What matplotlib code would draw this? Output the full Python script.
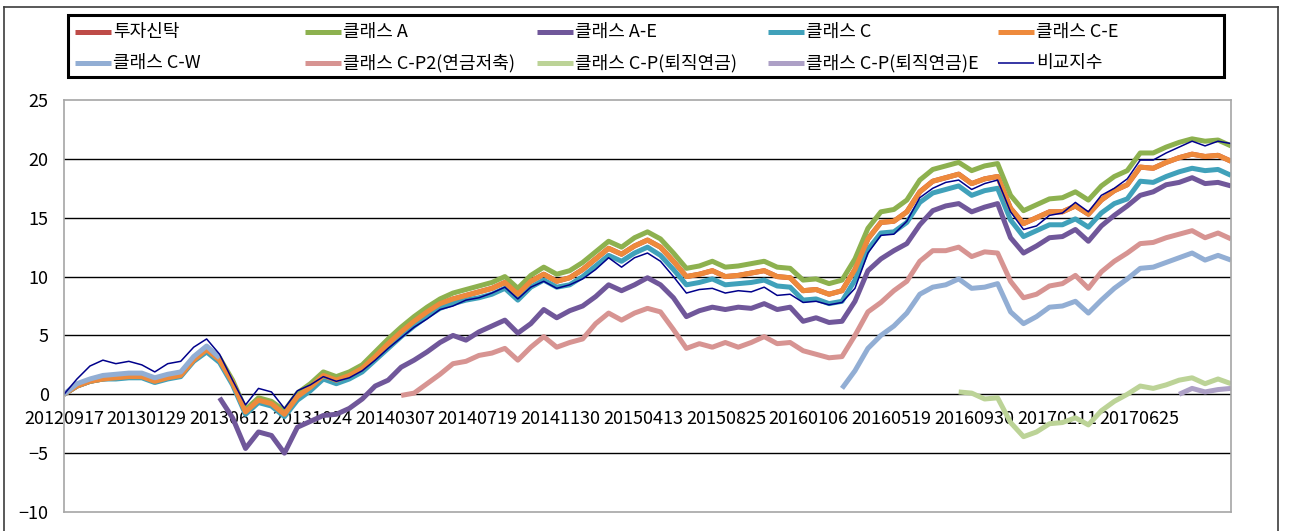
import numpy as np
import pandas as pd
import matplotlib.pyplot as plt
from matplotlib.lines import Line2D
from matplotlib.patches import Rectangle

plt.rcParams['font.family'] = ['Noto Sans CJK KR', 'DejaVu Sans']

# 값은 그림에서 3주 간격으로 읽음 (None = 데이터 없음)
dates = pd.date_range('2012-09-17', periods=91, freq='21D')
tick_labels = ['20120917', '20130129', '20130612', '20131024', '20140307',
               '20140719', '20141130', '20150413', '20150825', '20160106',
               '20160519', '20160930', '20170211', '20170625']

fund = [0.0, 0.7, 1.1, 1.3, 1.4, 1.5, 1.5, 1.1, 1.4, 1.6,
        2.9, 3.8, 2.9, 1.0, -1.5, -0.5, -0.8, -1.7, -0.2, 0.6,
        1.6, 1.2, 1.6, 2.2, 3.2, 4.3, 5.3, 6.2, 7.0, 7.7,
        8.1, 8.4, 8.7, 9.0, 9.5, 8.5, 9.6, 10.2, 9.6, 9.9,
        10.6, 11.5, 12.4, 11.9, 12.6, 13.1, 12.5, 11.3, 10.0, 10.2,
        10.5, 10.0, 10.1, 10.3, 10.5, 10.0, 9.9, 8.8, 8.9, 8.5,
        8.8, 10.6, 13.2, 14.6, 14.7, 15.5, 17.2, 18.1, 18.4, 18.7,
        17.9, 18.3, 18.5, 15.8, 14.5, 15.0, 15.5, 15.5, 16.0, 15.3,
        16.5, 17.3, 17.8, 19.3, 19.2, 19.7, 20.1, 20.4, 20.2, 20.3, 19.8]

class_a = [0.0, 0.7, 1.1, 1.3, 1.5, 1.6, 1.6, 1.2, 1.5, 1.7,
           3.1, 4.0, 3.1, 1.2, -1.3, -0.3, -0.6, -1.4, 0.1, 0.9,
           1.9, 1.5, 1.9, 2.5, 3.6, 4.7, 5.7, 6.6, 7.4, 8.1,
           8.6, 8.9, 9.2, 9.5, 10.0, 9.0, 10.1, 10.8, 10.2, 10.5,
           11.2, 12.1, 13.0, 12.5, 13.3, 13.8, 13.2, 12.0, 10.7, 10.9,
           11.3, 10.8, 10.9, 11.1, 11.3, 10.8, 10.7, 9.7, 9.8, 9.4,
           9.7, 11.5, 14.1, 15.5, 15.7, 16.5, 18.2, 19.1, 19.4, 19.7,
           19.0, 19.4, 19.6, 16.9, 15.6, 16.1, 16.6, 16.7, 17.2, 16.5,
           17.7, 18.5, 19.0, 20.5, 20.5, 21.0, 21.4, 21.7, 21.5, 21.6, 21.1]

class_ae = [None] * 12 + [
    -0.3, -2.0, -4.6, -3.2, -3.5, -5.0, -2.8, -2.3,
    -1.8, -1.7, -1.2, -0.4, 0.7, 1.2, 2.3, 2.9, 3.6, 4.4,
    5.0, 4.6, 5.3, 5.8, 6.3, 5.2, 6.0, 7.2, 6.5, 7.1,
    7.5, 8.3, 9.3, 8.8, 9.3, 9.9, 9.3, 8.2, 6.6, 7.1,
    7.4, 7.2, 7.4, 7.3, 7.7, 7.2, 7.4, 6.2, 6.5, 6.1,
    6.2, 7.9, 10.5, 11.5, 12.2, 12.8, 14.4, 15.6, 16.0, 16.2,
    15.5, 15.9, 16.2, 13.3, 12.0, 12.6, 13.3, 13.4, 14.0, 13.0,
    14.3, 15.2, 16.0, 16.9, 17.2, 17.8, 18.0, 18.4, 17.9, 18.0, 17.7]

class_c = [0.0, 0.7, 1.1, 1.3, 1.3, 1.4, 1.4, 1.0, 1.3, 1.5,
           2.8, 3.6, 2.7, 0.8, -1.7, -0.7, -1.0, -1.9, -0.5, 0.3,
           1.3, 0.9, 1.3, 1.9, 2.9, 3.9, 4.9, 5.8, 6.6, 7.3,
           7.7, 8.0, 8.2, 8.5, 9.0, 8.0, 9.1, 9.7, 9.1, 9.3,
           10.0, 10.9, 11.8, 11.3, 12.0, 12.5, 11.8, 10.6, 9.3, 9.5,
           9.8, 9.3, 9.4, 9.5, 9.7, 9.2, 9.1, 8.0, 8.1, 7.7,
           7.9, 9.7, 12.3, 13.7, 13.8, 14.6, 16.3, 17.1, 17.4, 17.7,
           16.9, 17.3, 17.5, 14.8, 13.4, 13.9, 14.4, 14.4, 14.9, 14.2,
           15.4, 16.2, 16.6, 18.1, 18.0, 18.5, 18.9, 19.2, 19.0, 19.1, 18.6]

class_ce = [0.0, 0.7, 1.1, 1.3, 1.4, 1.5, 1.5, 1.1, 1.4, 1.6,
            2.9, 3.8, 2.9, 1.0, -1.5, -0.5, -0.8, -1.7, -0.2, 0.6,
            1.6, 1.2, 1.6, 2.2, 3.2, 4.3, 5.3, 6.2, 7.0, 7.7,
            8.1, 8.4, 8.7, 9.0, 9.5, 8.5, 9.6, 10.2, 9.6, 9.9,
            10.6, 11.5, 12.4, 11.9, 12.6, 13.1, 12.5, 11.3, 10.0, 10.2,
            10.5, 10.0, 10.1, 10.3, 10.5, 10.0, 9.9, 8.8, 8.9, 8.5,
            8.8, 10.6, 13.2, 14.6, 14.7, 15.5, 17.2, 18.1, 18.4, 18.7,
            17.9, 18.3, 18.5, 15.8, 14.5, 15.0, 15.5, 15.5, 16.0, 15.3,
            16.5, 17.3, 17.8, 19.3, 19.2, 19.7, 20.1, 20.4, 20.2, 20.3, 19.8]

class_cw = [0.0, 0.9, 1.3, 1.6, 1.7, 1.8, 1.8, 1.4, 1.7, 1.9, 3.2, 4.1, 3.1] + [None] * 47 + [
    0.5, 2.0, 3.9, 5.0, 5.8, 6.9, 8.5, 9.1, 9.3, 9.8,
    9.0, 9.1, 9.4, 7.0, 6.0, 6.6, 7.4, 7.5, 7.9, 6.9,
    8.0, 9.0, 9.8, 10.7, 10.8, 11.2, 11.6, 12.0, 11.4, 11.8, 11.4]

class_cp2 = [None] * 26 + [
    -0.1, 0.1, 0.9, 1.7,
    2.6, 2.8, 3.3, 3.5, 3.9, 2.9, 4.0, 4.9, 4.0, 4.4,
    4.7, 6.0, 6.9, 6.3, 6.9, 7.3, 7.0, 5.5, 3.9, 4.3,
    4.0, 4.4, 4.0, 4.4, 4.9, 4.3, 4.4, 3.7, 3.4, 3.1,
    3.2, 5.0, 7.0, 7.8, 8.8, 9.6, 11.3, 12.2, 12.2, 12.5,
    11.7, 12.1, 12.0, 9.6, 8.2, 8.5, 9.2, 9.4, 10.1, 9.0,
    10.4, 11.3, 12.0, 12.8, 12.9, 13.3, 13.6, 13.9, 13.3, 13.7, 13.2]

class_cp = [None] * 69 + [
    0.2, 0.1, -0.4, -0.3, -2.4, -3.6, -3.2, -2.5, -2.4, -2.0, -2.6,
    -1.4, -0.6, 0.0, 0.7, 0.5, 0.8, 1.2, 1.4, 0.9, 1.3, 0.9]

class_cpe = [None] * 86 + [0.0, 0.5, 0.2, 0.4, 0.5]

benchmark = [0.0, 1.3, 2.4, 2.9, 2.6, 2.8, 2.5, 1.9, 2.6, 2.8,
             4.0, 4.7, 3.4, 1.2, -0.9, 0.5, 0.2, -1.2, 0.3, 0.8,
             1.5, 1.1, 1.4, 2.0, 2.9, 3.9, 4.8, 5.7, 6.4, 7.2,
             7.5, 8.0, 8.2, 8.6, 9.1, 8.1, 9.1, 9.6, 9.0, 9.3,
             9.8, 10.6, 11.6, 10.8, 11.6, 12.0, 11.3, 10.0, 8.6, 8.9,
             9.0, 8.6, 8.8, 8.7, 9.1, 8.4, 8.5, 7.8, 7.9, 7.6,
             7.8, 9.0, 12.0, 13.5, 13.6, 14.7, 16.7, 17.5, 18.0, 18.2,
             17.4, 17.9, 18.2, 15.5, 14.0, 14.3, 15.2, 15.4, 16.3, 15.5,
             16.9, 17.5, 18.3, 19.9, 19.9, 20.5, 21.0, 21.5, 21.1, 21.5, 21.3]

series = [
    ('투자신탁', fund, '#BE4B48', 3.6),
    ('클래스 A', class_a, '#8DB14F', 3.6),
    ('클래스 A-E', class_ae, '#70579A', 3.6),
    ('클래스 C', class_c, '#40A1BA', 3.6),
    ('클래스 C-E', class_ce, '#EE8A3C', 3.6),
    ('클래스 C-W', class_cw, '#92AED4', 3.6),
    ('클래스 C-P2(연금저축)', class_cp2, '#D79492', 3.6),
    ('클래스 C-P(퇴직연금)', class_cp, '#BCD397', 3.6),
    ('클래스 C-P(퇴직연금)E', class_cpe, '#ADA0C6', 3.6),
    ('비교지수', benchmark, '#00008B', 1.1),
]

W, H = 1291, 531
fig = plt.figure(figsize=(W / 100, H / 100), dpi=100)
ax = fig.add_axes([64 / W, 1 - 512 / H, (1231 - 64) / W, (512 - 100) / H])

x = np.asarray((dates - dates[0]).days, dtype=float)
for name, vals, color, lw in series:
    y = np.array([np.nan if v is None else v for v in vals], dtype=float)
    ax.plot(x, y, color=color, lw=lw, solid_capstyle='butt', solid_joinstyle='round')

ax.set_xlim(0, x[-1])
ax.set_ylim(-10, 25)
ax.set_yticks(range(-10, 30, 5))
ax.set_xticks([])
for gy in range(-5, 25, 5):
    ax.axhline(gy, color='black', lw=1.0, zorder=0.5)
for sp in ax.spines.values():
    sp.set_color('#A6A6A6')
    sp.set_linewidth(1.2)
ax.tick_params(axis='y', length=0, pad=11, labelsize=13)

# 날짜 라벨은 0 선 아래에 표시
sec = ax.secondary_xaxis(10 / 35)
tick_pos = (pd.to_datetime(tick_labels) - dates[0]).days
sec.set_xticks(list(tick_pos), tick_labels)
sec.tick_params(length=0, pad=11, labelsize=13)
for sp in sec.spines.values():
    sp.set_visible(False)

# 범례 (수동 배치)
def fx(px):
    return px / W

def fy(py):
    return 1 - py / H

fig.patches.append(Rectangle((fx(68), fy(77)), fx(1224) - fx(68), fy(15) - fy(77),
                             transform=fig.transFigure, fill=False, ec='black', lw=2.2))
col_x = [75, 305, 537, 768, 998]
row_y = [32, 63]
for k, (name, vals, color, lw) in enumerate(series):
    cx = col_x[k % 5]
    cy = row_y[k // 5]
    fig.lines.append(Line2D([fx(cx), fx(cx + 36)], [fy(cy), fy(cy)], transform=fig.transFigure,
                            color=color, lw=lw, solid_capstyle='butt'))
    fig.text(fx(cx + 38), fy(cy), name, fontsize=13, va='center', ha='left')

# 바깥 테두리
for xs, ys in [([4, 4], [7, 531]), ([4, 1278], [7, 7]), ([1278, 1278], [7, 531])]:
    fig.lines.append(Line2D([fx(v) for v in xs], [fy(v) for v in ys], transform=fig.transFigure,
                            color='#3C3C3C', lw=1.2))

fig.savefig('out.png', dpi=100)
